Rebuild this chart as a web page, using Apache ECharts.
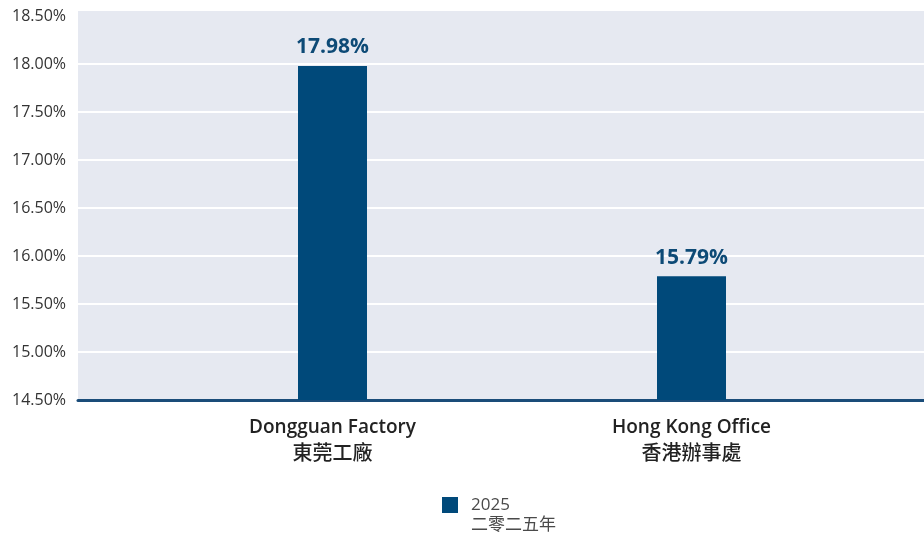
<!DOCTYPE html>
<html>
<head>
<meta charset="utf-8">
<script src="https://cdn.jsdelivr.net/npm/echarts@6/dist/echarts.min.js"></script>
<style>
html,body{margin:0;padding:0;background:#fff;}
#chart{width:924px;height:538px;}
</style>
</head>
<body>
<div id="chart"></div>
<script>
var categoriesEn = ['Dongguan Factory', 'Hong Kong Office'];
var categoriesZh = ['東莞工廠', '香港辦事處'];
var values2025 = [17.98, 15.79];
var seriesName = '2025';
var seriesNameZh = '二零二五年';
var yMin = 14.5, yMax = 18.5, yStep = 0.5;

var FONT = "'Open Sans', 'Noto Sans CJK TC', sans-serif";
var CJK = "'Noto Sans CJK TC', sans-serif";
var categories = categoriesEn.map(function (e, i) { return e + '|' + categoriesZh[i]; });

var chart = echarts.init(document.getElementById('chart'), null, {renderer: 'canvas'});
chart.setOption({
  animation: false,
  textStyle: {fontFamily: FONT},
  graphic: {
    elements: [{
      type: 'rect', z: -100, silent: true,
      shape: {x: 78, y: 11, width: 846, height: 389},
      style: {fill: '#E6E9F1'}
    }]
  },
  grid: [
    {left: 78, right: 0, top: 16, bottom: 138},
    {left: 153, right: 53, top: 16, bottom: 138}
  ],
  legend: {
    data: [seriesName],
    left: 437, top: 470,
    icon: 'rect', itemWidth: 16, itemHeight: 16,
    formatter: function (n) { return ' \n' + n + '\n' + seriesNameZh; },
    textStyle: {fontFamily: FONT, fontSize: 17, fontWeight: 400, color: '#4A4A4A', lineHeight: 20, padding: [0, 0, 0, 8]}
  },
  xAxis: [
    {type: 'value', gridIndex: 0, min: 0, max: 1,
     axisLine: {show: true, lineStyle: {color: '#1A4C79', width: 3}},
     axisTick: {show: false}, axisLabel: {show: false}, splitLine: {show: false}},
    {type: 'category', gridIndex: 1, data: categories,
     axisLine: {show: false}, axisTick: {show: false}, splitLine: {show: false},
     axisLabel: {margin: 16,
       formatter: function (v) { var p = v.split('|'); return '{en|' + p[0] + '}\n{zh|' + p[1] + '}'; },
       rich: {
         en: {fontFamily: FONT, fontSize: 19, fontWeight: 600, color: '#222', lineHeight: 24},
         zh: {fontFamily: CJK, fontSize: 20, fontWeight: 500, color: '#222', lineHeight: 24}
       }}}
  ],
  yAxis: [
    {type: 'value', gridIndex: 0, min: yMin, max: yMax, interval: yStep,
     axisLine: {show: false}, axisTick: {show: false},
     axisLabel: {fontFamily: FONT, fontSize: 16, color: '#333', margin: 12,
                 formatter: function (v) { return v.toFixed(2) + '%'; }},
     splitLine: {show: true, showMaxLine: false, lineStyle: {color: '#FFFFFF', width: 2}}},
    {type: 'value', gridIndex: 1, min: yMin, max: yMax, interval: yStep, show: false,
     splitLine: {show: false}}
  ],
  series: [{
    name: seriesName, type: 'bar', xAxisIndex: 1, yAxisIndex: 1,
    data: values2025, barWidth: 69,
    itemStyle: {color: '#00497A'},
    label: {show: true, position: 'top', distance: 8,
            fontFamily: FONT, fontSize: 21, fontWeight: 'bold', color: '#0D4A76',
            formatter: function (p) { return p.value.toFixed(2) + '%'; }}
  }]
});
</script>
</body>
</html>
